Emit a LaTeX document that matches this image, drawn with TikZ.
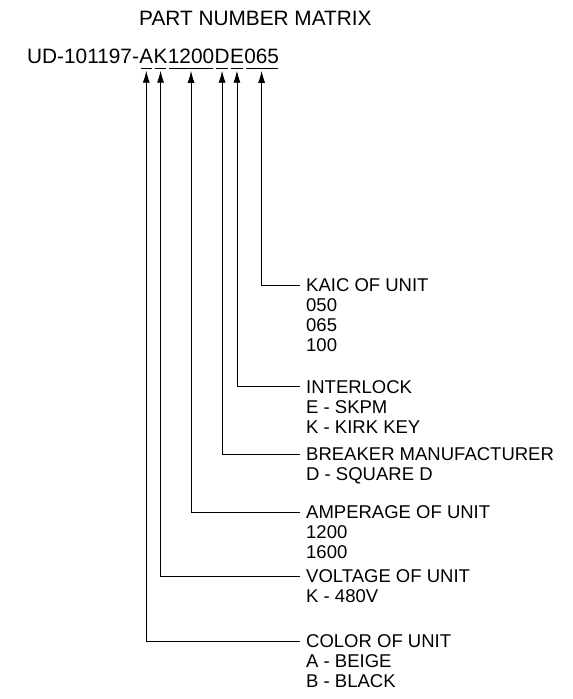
\documentclass[tikz,border=0pt]{standalone}
\usepackage{fontspec}
\setmainfont{Liberation Sans}
\usetikzlibrary{arrows.meta, positioning}

\tikzset{
  big/.style={font=\fontsize{20.8}{24}\selectfont, inner sep=0pt},
  part/.style={big, inner ysep=4.2pt},
  head/.style={font=\fontsize{18.5}{20}\selectfont, inner xsep=6pt, inner ysep=0pt, anchor=west},
  opts/.style={font=\fontsize{18.5}{20}\selectfont, inner xsep=6pt, inner ysep=0pt, align=left, anchor=north west},
  lead/.style={-{Latex[length=12pt,width=7pt]}, line width=0.8pt, shorten >=2.8pt},
  bar/.style={line width=0.8pt, shorten <=1.5pt, shorten >=1.5pt}
}

\begin{document}
\begin{tikzpicture}[x=1pt, y=-1pt]
  \useasboundingbox (0,0) rectangle (573,699);

  \node[big, anchor=base west] (title) at (139,25) {PART NUMBER MATRIX};

  % the part number, one node per field
  \node[big, anchor=base west] (pnum) at (27,63.5) {UD-101197-};
  \node[part, base right=0pt of pnum] (pa) {A};
  \node[part, base right=0pt of pa] (pk) {K};
  \node[part, base right=0pt of pk] (p1200) {1200};
  \node[part, base right=0pt of p1200] (pd) {D};
  \node[part, base right=0pt of pd] (pe) {E};
  \node[part, base right=0pt of pe] (p065) {065};

  \foreach \f in {pa,pk,p1200,pd,pe,p065}
    \draw[bar] (\f.south west) -- (\f.south east);

  % field descriptions
  \node[head] (kaic) at (300,285) {KAIC OF UNIT};
  \node[opts] (kaicopt) at ([yshift=-6.8pt]kaic.south west) {050\\065\\100};

  \node[head] (inter) at (300,386.7) {INTERLOCK};
  \node[opts] (interopt) at ([yshift=-6.8pt]inter.south west) {E - SKPM\\K - KIRK KEY};

  \node[head] (brk) at (300,454) {BREAKER MANUFACTURER};
  \node[opts] (brkopt) at ([yshift=-6.8pt]brk.south west) {D - SQUARE D};

  \node[head] (amp) at (300,512) {AMPERAGE OF UNIT};
  \node[opts] (ampopt) at ([yshift=-6.8pt]amp.south west) {1200\\1600};

  \node[head] (volt) at (300,576) {VOLTAGE OF UNIT};
  \node[opts] (voltopt) at ([yshift=-6.8pt]volt.south west) {K - 480V};

  \node[head] (color) at (300,641) {COLOR OF UNIT};
  \node[opts] (coloropt) at ([yshift=-6.8pt]color.south west) {A - BEIGE\\B - BLACK};

  \draw[lead] (kaic.west) -| (p065.south);
  \draw[lead] (inter.west) -| (pe.south);
  \draw[lead] (brk.west) -| (pd.south);
  \draw[lead] (amp.west) -| (p1200.south);
  \draw[lead] (volt.west) -| (pk.south);
  \draw[lead] (color.west) -| (pa.south);
\end{tikzpicture}
\end{document}
